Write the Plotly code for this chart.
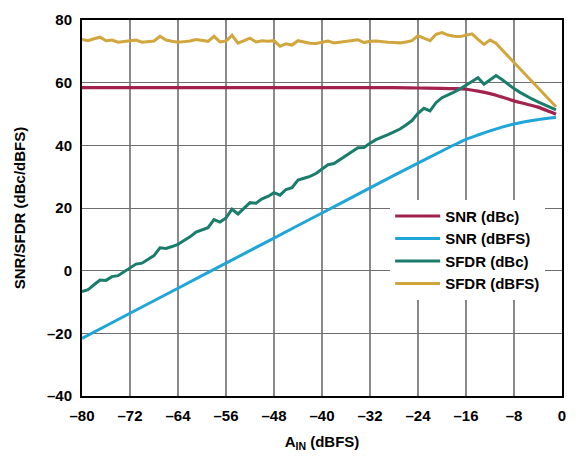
import plotly.graph_objects as go

# ---- data ----
x_sfdr = list(range(-80, 0))
sfdr_dbfs = [73.8, 73.4, 74.0, 74.5, 73.4, 73.6, 72.9, 73.2, 73.5, 73.6,
             72.9, 73.0, 73.3, 74.8, 73.6, 73.2, 72.9, 73.1, 73.3, 73.8,
             73.5, 73.2, 74.8, 73.0, 73.3, 75.1, 72.6, 73.3, 74.2, 73.0,
             73.4, 73.2, 73.4, 71.6, 72.4, 72.0, 73.4, 73.0, 72.6, 72.5,
             72.9, 73.3, 72.7, 73.0, 73.3, 73.5, 73.7, 72.8, 73.2, 73.3,
             73.0, 72.9, 72.8, 72.7, 73.0, 73.4, 75.0, 74.2, 73.4, 75.4,
             76.0, 75.2, 74.8, 74.7, 75.2, 75.6, 73.8, 72.2, 73.6, 72.6,
             70.5, 68.5, 66.5, 64.4, 62.4, 60.4, 58.4, 56.4, 54.3, 52.3]
sfdr_dbc = [-6.7, -6.1, -4.5, -3.0, -3.1, -1.9, -1.6, -0.3, 1.0, 2.1,
            2.4, 3.5, 4.8, 7.3, 7.1, 7.7, 8.4, 9.6, 10.8, 12.3,
            13.0, 13.7, 16.3, 15.5, 16.8, 19.6, 18.1, 19.8, 21.7, 21.5,
            22.9, 23.7, 24.9, 24.1, 25.9, 26.5, 28.9, 29.5, 30.1, 31.0,
            32.4, 33.8, 34.2, 35.5, 36.8, 38.0, 39.2, 39.3, 40.7, 41.8,
            42.5, 43.4, 44.3, 45.2, 46.5, 47.9, 50.2, 51.8, 51.0, 53.6,
            55.2, 56.0, 57.0, 58.0, 59.2, 60.6, 61.6, 59.5, 61.0, 62.3,
            61.0, 59.5, 58.1, 56.9, 55.8, 54.8, 53.9, 53.0, 52.1, 51.3]

x_snr = [-80, -72, -64, -56, -48, -40, -32, -28, -24, -20,
         -18, -16, -14, -12, -10, -8, -6, -4, -2, -1]
snr_dbc = [58.4, 58.4, 58.4, 58.4, 58.4, 58.4, 58.4, 58.4, 58.3, 58.2,
           58.1, 57.9, 57.3, 56.5, 55.4, 54.2, 53.2, 52.2, 50.7, 49.9]
snr_dbfs = [-21.6, -13.6, -5.6, 2.4, 10.4, 18.4, 26.4, 30.4, 34.3, 38.2,
            40.1, 41.9, 43.3, 44.6, 45.8, 46.8, 47.6, 48.2, 48.7, 48.9]

x_ticks = [-80, -72, -64, -56, -48, -40, -32, -24, -16, -8, 0]
y_ticks = [-40, -20, 0, 20, 40, 60, 80]

def lab(v):
    return ("\u2013" + str(-v)) if v < 0 else str(v)

FONT = "Liberation Sans, Arial, sans-serif"

fig = go.Figure()
fig.add_trace(go.Scatter(x=x_snr, y=snr_dbc, mode="lines", name="SNR (dBc)",
                         line=dict(color="#A3234F", width=3.2, shape="spline")))
fig.add_trace(go.Scatter(x=x_snr, y=snr_dbfs, mode="lines", name="SNR (dBFS)",
                         line=dict(color="#1FA5D8", width=3, shape="spline")))
fig.add_trace(go.Scatter(x=x_sfdr, y=sfdr_dbc, mode="lines", name="SFDR (dBc)",
                         line=dict(color="#1A7D6C", width=3)))
fig.add_trace(go.Scatter(x=x_sfdr, y=sfdr_dbfs, mode="lines", name="SFDR (dBFS)",
                         line=dict(color="#D1A63C", width=3)))

fig.update_layout(
    width=577, height=459,
    margin=dict(l=82, r=11, t=14, b=59),
    paper_bgcolor="white", plot_bgcolor="white",
    font=dict(family=FONT, color="black"),
    showlegend=True,
    legend=dict(x=0.642, y=0.522, xanchor="left", yanchor="top",
                bgcolor="white", borderwidth=0,
                font=dict(family=FONT, size=15, color="black", weight="bold"),
                tracegroupgap=0, itemwidth=45),
    xaxis=dict(range=[-80, 0], tickvals=x_ticks, ticktext=["<b>%s</b>" % lab(v) for v in x_ticks],
               tickfont=dict(size=15), showgrid=True, gridcolor="#8a8a8a", gridwidth=1.5,
               showline=True, linecolor="black", linewidth=2, mirror=True,
               ticks="", zeroline=False, ticklabelstandoff=5,
               title=dict(text="<b>A<sub>IN</sub> (dBFS)</b>", font=dict(size=15), standoff=13)),
    yaxis=dict(range=[-40, 80], tickvals=y_ticks, ticktext=["<b>%s</b>" % lab(v) for v in y_ticks],
               tickfont=dict(size=15), showgrid=True, gridcolor="#6e6e6e", gridwidth=1.2,
               showline=True, linecolor="black", linewidth=2, mirror=True,
               ticks="", zeroline=False, ticklabelstandoff=5,
               title=dict(text="<b>SNR/SFDR (dBc/dBFS)</b>", font=dict(size=15), standoff=18)),
)

fig.write_html("out.html")
